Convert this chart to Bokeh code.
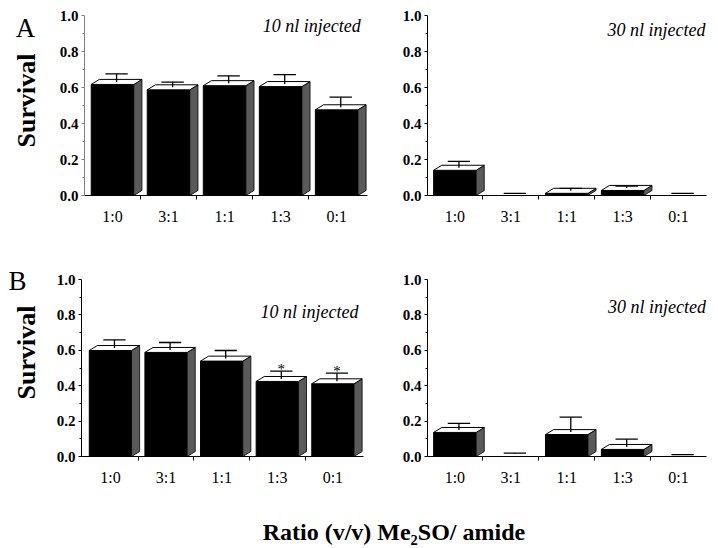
import numpy as np
from bokeh.plotting import figure
from bokeh.models import Range1d, FixedTicker, PrintfTickFormatter, Label, ColumnDataSource
from bokeh.layouts import column, row
from bokeh.embed import file_html
from bokeh.resources import INLINE

# ---------------- data ----------------
categories = ["1:0", "3:1", "1:1", "1:3", "0:1"]
y_ticks = [0.0, 0.2, 0.4, 0.6, 0.8, 1.0]
y_minor = [0.1, 0.3, 0.5, 0.7, 0.9]

survival_A10 = [0.617, 0.587, 0.610, 0.605, 0.476]
err_A10 = [0.059, 0.043, 0.055, 0.067, 0.070]
sig_A10 = ["", "", "", "", ""]

survival_A30 = [0.140, 0.0, 0.012, 0.028, 0.0]
err_A30 = [0.050, 0.012, 0.028, 0.024, 0.012]
sig_A30 = ["", "", "", "", ""]

survival_B10 = [0.599, 0.588, 0.539, 0.424, 0.411]
err_B10 = [0.060, 0.056, 0.060, 0.058, 0.060]
sig_B10 = ["", "", "", "*", "*"]

survival_B30 = [0.136, 0.0, 0.124, 0.040, 0.0]
err_B30 = [0.051, 0.019, 0.098, 0.058, 0.011]
sig_B30 = ["", "", "", "", ""]

panel_letters = ["A", "B"]
x_title = "Ratio (v/v) Me\u2082SO/ amide"
y_title = "Survival"

SERIF = "Liberation Serif"
HW = 0.38      # half width of bar front
DX = 0.145     # 3D depth, x units
DY = 0.028     # 3D depth, y units
CAP = 0.2      # half cap width


def make_panel(vals, errs, sig, note, w, h, bl, br, bt, bb, xr, note_xy,
               axis_color="black"):
    p = figure(width=w, height=h, x_range=Range1d(*xr), y_range=Range1d(0, 1),
               output_backend="svg", toolbar_location=None,
               min_border_left=bl, min_border_right=br,
               min_border_top=bt, min_border_bottom=bb)
    p.outline_line_color = None
    p.grid.visible = False
    p.background_fill_color = "white"

    x = np.arange(len(categories), dtype=float)
    v = np.array(vals, dtype=float)
    e = np.array(errs, dtype=float)
    has = v > 0
    xs, vs = x[has], v[has]

    src = ColumnDataSource(dict(x=xs, top=vs))
    p.vbar(x="x", top="top", width=2 * HW, source=src,
           fill_color="black", line_color="black", line_width=1)
    side_xs = [[xi + HW, xi + HW + DX, xi + HW + DX, xi + HW] for xi in xs]
    side_ys = [[0, DY, vi + DY, vi] for vi in vs]
    p.patches(side_xs, side_ys, fill_color="#5a5a5a", line_color="black", line_width=0.8)
    top_xs = [[xi - HW, xi - HW + DX, xi + HW + DX, xi + HW] for xi in xs]
    top_ys = [[vi, vi + DY, vi + DY, vi] for vi in vs]
    p.patches(top_xs, top_ys, fill_color="white", line_color="black", line_width=1)

    xe = x + DX / 2
    cap = v + e
    y0 = np.minimum(v + DY / 2, cap)
    p.segment(xe, y0, xe, cap, line_color="black", line_width=1.3)
    p.segment(xe - CAP, cap, xe + CAP, cap, line_color="black", line_width=1.3)

    for i, s in enumerate(sig):
        if s:
            p.add_layout(Label(x=xe[i], y=cap[i] + 0.012, text=s, text_font=SERIF,
                               text_font_size="15px", text_align="center",
                               text_baseline="alphabetic", text_color="black"))

    p.add_layout(Label(x=note_xy[0], y=note_xy[1], text=note, text_font=SERIF,
                       text_font_style="italic", text_font_size="18px",
                       text_align="right", text_baseline="alphabetic", text_color="black"))

    xa = p.xaxis[0]
    xa.ticker = FixedTicker(ticks=list(x), minor_ticks=[0.5, 1.5, 2.5, 3.5])
    xa.major_label_overrides = {i: c for i, c in enumerate(categories)}
    xa.major_tick_out = 0
    xa.major_tick_in = 0
    xa.minor_tick_out = 4
    xa.minor_tick_in = 0
    xa.axis_line_color = "black"
    xa.minor_tick_line_color = "black"
    xa.major_label_text_font = SERIF
    xa.major_label_text_font_size = "16px"
    xa.major_label_text_color = "black"
    xa.major_label_standoff = 8

    ya = p.yaxis[0]
    ya.ticker = FixedTicker(ticks=y_ticks, minor_ticks=y_minor)
    ya.formatter = PrintfTickFormatter(format="%.1f")
    ya.major_tick_out = 3
    ya.major_tick_in = 0
    ya.minor_tick_out = 2
    ya.minor_tick_in = 0
    ya.axis_line_color = axis_color
    ya.major_tick_line_color = axis_color
    ya.minor_tick_line_color = axis_color
    ya.major_label_text_font = SERIF
    ya.major_label_text_font_style = "bold"
    ya.major_label_text_font_size = "15px"
    ya.major_label_text_color = "black"
    ya.major_label_standoff = 3
    return p


# left strip holding panel letters and the y titles (pixel-like coordinates, y from top)
H_STRIP = 492
strip = figure(width=48, height=H_STRIP, x_range=Range1d(0, 48), y_range=Range1d(0, H_STRIP),
               output_backend="svg", toolbar_location=None, min_border=0,
               x_axis_location=None, y_axis_location=None)
strip.grid.visible = False
strip.outline_line_color = None
for letter, (lx, ly), (sx, sy) in zip(panel_letters,
                                      [(25, 27), (17, 280)],
                                      [(26, 100), (26, 352)]):
    strip.add_layout(Label(x=lx, y=H_STRIP - ly, text=letter, text_font=SERIF,
                           text_font_size="27px", text_align="center",
                           text_baseline="middle", text_color="black"))
    strip.add_layout(Label(x=sx, y=H_STRIP - sy, text=y_title, text_font=SERIF,
                           text_font_style="bold", text_font_size="26px", angle=np.pi / 2,
                           text_align="center", text_baseline="middle", text_color="black"))

pA1 = make_panel(survival_A10, err_A10, sig_A10, "10 nl injected",
                 324, 250, 36, 5, 15, 55, (-0.5, 4.55), (4.43, 0.944),
                 axis_color="#808080")
pA2 = make_panel(survival_A30, err_A30, sig_A30, "30 nl injected",
                 342, 250, 55, 8, 15, 55, (-0.49, 4.5), (4.48, 0.917))
pB1 = make_panel(survival_B10, err_B10, sig_B10, "10 nl injected",
                 324, 242, 33, 9, 29, 36, (-0.52, 4.55), (4.46, 0.814))
pB2 = make_panel(survival_B30, err_B30, sig_B30, "30 nl injected",
                 342, 242, 55, 8, 29, 36, (-0.49, 4.5), (4.49, 0.847))

pL = figure(width=714, height=54, x_range=Range1d(0, 1), y_range=Range1d(0, 1),
            output_backend="svg", toolbar_location=None, min_border=0,
            x_axis_location=None, y_axis_location=None)
pL.grid.visible = False
pL.outline_line_color = None
pL.add_layout(Label(x=0.551, y=0.26, text=x_title, text_font=SERIF, text_font_style="bold",
                    text_font_size="24px", text_align="center", text_baseline="alphabetic",
                    text_color="black"))

panels = column(row(pA1, pA2), row(pB1, pB2))
layout = column(row(strip, panels), pL)
open("out.html", "w").write(file_html(layout, INLINE))
